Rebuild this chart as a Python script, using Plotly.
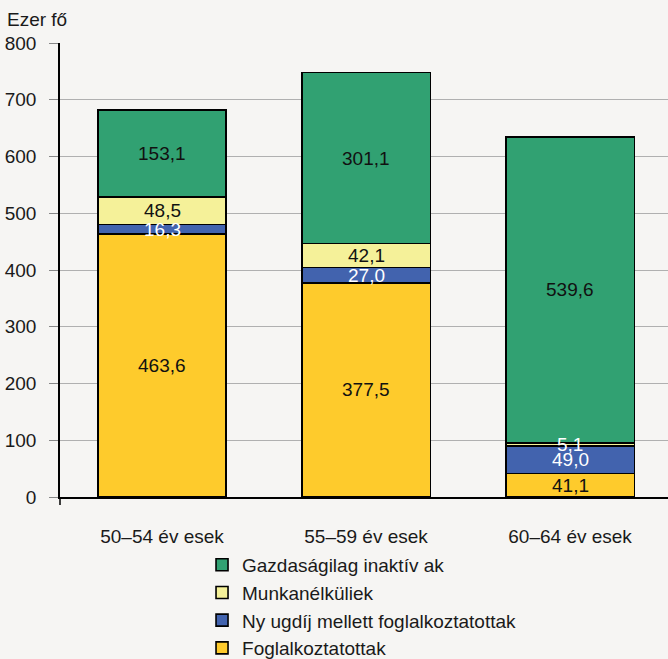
import plotly.graph_objects as go

categories = ["50–54 év esek", "55–59 év esek", "60–64 év esek"]
foglalkoztatottak = [463.6, 377.5, 41.1]
nyugdij_mellett = [16.3, 27.0, 49.0]
munkanelkuliek = [48.5, 42.1, 5.1]
inaktivak = [153.1, 301.1, 539.6]
y_ticks = [0, 100, 200, 300, 400, 500, 600, 700, 800]

series = [
    ("Foglalkoztatottak", foglalkoztatottak, "#fecb2c", ["#111111"] * 3),
    ("Ny ugdíj mellett foglalkoztatottak", nyugdij_mellett, "#4263ae", ["#ffffff"] * 3),
    ("Munkanélküliek", munkanelkuliek, "#f5f199", ["#111111", "#111111", "#ffffff"]),
    ("Gazdaságilag inaktív ak", inaktivak, "#31a172", ["#111111"] * 3),
]

FONT = "Liberation Sans, Arial, sans-serif"
FS = 19
fig = go.Figure()
annotations = []
base = [0.0] * len(categories)
for i, (name, vals, color, lblcol) in enumerate(series):
    fig.add_trace(go.Bar(
        x=categories, y=vals, name=name, width=0.63,
        marker=dict(color=color, line=dict(color="#000000", width=1.6)),
    ))
    for j, v in enumerate(vals):
        mid = base[j] + v / 2
        annotations.append(dict(
            x=categories[j], y=mid, xref="x", yref="y",
            text=f"{v:.1f}".replace(".", ","), showarrow=False,
            font=dict(family=FONT, size=FS, color=lblcol[j]),
        ))
        base[j] += v

annotations.append(dict(
    x=0, xref="paper", xanchor="left", xshift=-55,
    y=1, yref="paper", yanchor="bottom", yshift=11,
    text="Ezer fő", showarrow=False,
    font=dict(family=FONT, size=FS, color="#1a1a1a"),
))

fig.update_layout(
    width=668, height=659,
    margin=dict(l=60, r=0, t=43, b=162, autoexpand=False),
    paper_bgcolor="#f6f5f3", plot_bgcolor="#f6f5f3",
    barmode="stack",
    font=dict(family=FONT, size=FS, color="#1a1a1a"),
    showlegend=True,
    legend=dict(
        x=0.2336, xanchor="left", y=-0.1077, yanchor="top",
        traceorder="reversed",
        font=dict(family=FONT, size=FS, color="#1a1a1a"),
        bgcolor="rgba(0,0,0,0)",
    ),
    annotations=annotations,
    xaxis=dict(
        range=[-0.5, 2.48], showgrid=False, ticks="",
        showline=True, linecolor="#000000", linewidth=1.5,
        ticklabelstandoff=21,
        tickfont=dict(family=FONT, size=FS, color="#1a1a1a"),
        fixedrange=True,
    ),
    yaxis=dict(
        range=[0, 800], tickvals=y_ticks, ticks="outside", ticklen=9,
        tickcolor="#888888", tickwidth=1,
        showgrid=True, gridcolor="#b0b0b0", gridwidth=1,
        showline=True, linecolor="#000000", linewidth=1.5,
        zeroline=False, ticklabelstandoff=9,
        tickfont=dict(family=FONT, size=FS, color="#1a1a1a"),
        fixedrange=True,
    ),
    shapes=[dict(type="line", xref="paper", yref="paper", x0=0, x1=0,
                 y0=0, y1=-8 / 454, line=dict(color="#000000", width=1.5))],
)

fig.write_html("out.html")
